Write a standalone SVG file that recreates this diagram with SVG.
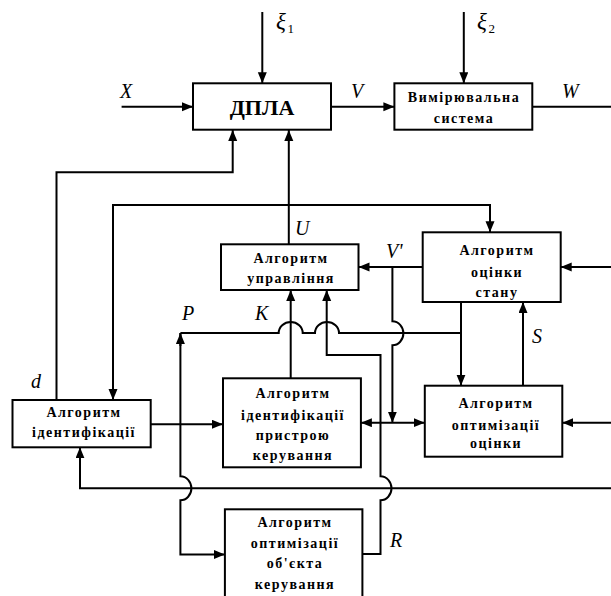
<svg xmlns="http://www.w3.org/2000/svg" width="611" height="596" viewBox="0 0 611 596">
<style>
.box{fill:#fff;stroke:#000;stroke-width:2}
.ln{fill:none;stroke:#000;stroke-width:2}
.t{font-family:"Liberation Serif","Times New Roman",serif;font-weight:bold;font-size:14px;letter-spacing:1.5px;text-anchor:middle;fill:#000}
.big{font-family:"Liberation Serif","Times New Roman",serif;font-weight:bold;font-size:22px;text-anchor:middle;fill:#000}
.lab{font-family:"Liberation Serif","Times New Roman",serif;font-style:italic;font-size:20px;fill:#000}
.xi{font-family:"Liberation Serif","Times New Roman",serif;font-style:italic;font-size:23px;fill:#000}
.sub{font-family:"Liberation Serif","Times New Roman",serif;font-size:13px;fill:#000}
</style>
<defs>
<marker id="ar" markerUnits="userSpaceOnUse" markerWidth="12" markerHeight="10" refX="11" refY="4.5" orient="auto-start-reverse">
<path d="M0,0 L11,4.5 L0,9 z" fill="#000"/>
</marker>
</defs>
<rect width="611" height="596" fill="#fff"/>

<g id="connectors" class="ln">
<path d="M262.3,12 V83.3" marker-end="url(#ar)"/>
<path d="M463.8,12 V83.3" marker-end="url(#ar)"/>
<path d="M121.6,106.7 H193" marker-end="url(#ar)"/>
<path d="M331,106.7 H394.4" marker-end="url(#ar)"/>
<path d="M532.3,106.7 H611"/>
<path d="M56.5,400 V172.3 H232.7 V130" marker-end="url(#ar)"/>
<path d="M288.8,244.3 V130" marker-end="url(#ar)"/>
<path d="M288.8,205 H113 V400" marker-end="url(#ar)"/>
<path d="M288.8,205 H490 V232.3" marker-end="url(#ar)"/>
<path d="M422.7,267 H358.5" marker-end="url(#ar)"/>
<path d="M611,267 H560.7" marker-end="url(#ar)"/>
<path d="M392.4,267 V321.3 A11,12 0 0 1 392.4,345.3 V422.7" marker-end="url(#ar)"/>
<path d="M461,302 V385.7" marker-end="url(#ar)"/>
<path d="M523,385.7 V302" marker-end="url(#ar)"/>
<path d="M461,333 H339 A12,11 0 0 0 315,333 H302.7 A12,11 0 0 0 278.7,333 H180.4"/>
<path d="M180.4,346 V333" marker-end="url(#ar)"/>
<path d="M180.4,333 V476.3 A11,12 0 0 1 180.4,500.3 V554.5 H224.9" marker-end="url(#ar)"/>
<path d="M362.4,554 H380.5 V500.3 A11,12 0 0 0 380.5,476.3 V355 H326.7 V290" marker-end="url(#ar)"/>
<path d="M290.7,378.3 V290" marker-end="url(#ar)"/>
<path d="M150.7,424.3 H223" marker-end="url(#ar)"/>
<path d="M424.8,422.7 H360.9" marker-start="url(#ar)" marker-end="url(#ar)"/>
<path d="M611,422.7 H562.3" marker-end="url(#ar)"/>
<path d="M611,488.3 H80 V447.3" marker-end="url(#ar)"/>
</g>

<g id="dpla"><rect class="box" x="193" y="83.3" width="138" height="46.4"/><text class="big" x="262" y="115">ДПЛА</text></g>
<g id="measure"><rect class="box" x="394.4" y="83.3" width="137.9" height="46.4"/><text class="t" x="464" y="101.5">Вимірювальна</text><text class="t" x="464" y="123">система</text></g>
<g id="control"><rect class="box" x="221" y="244.3" width="137.5" height="45.7"/><text class="t" x="291" y="263">Алгоритм</text><text class="t" x="291" y="283">управління</text></g>
<g id="state"><rect class="box" x="422.7" y="232.3" width="138" height="69.7"/><text class="t" x="497" y="255">Алгоритм</text><text class="t" x="497" y="276.5">оцінки</text><text class="t" x="497" y="296.5">стану</text></g>
<g id="ident"><rect class="box" x="12.5" y="400" width="138.2" height="47.3"/><text class="t" x="84" y="416.5">Алгоритм</text><text class="t" x="84" y="436.5">ідентифікації</text></g>
<g id="identdev"><rect class="box" x="223" y="378.3" width="137.9" height="89"/><text class="t" x="293" y="398">Алгоритм</text><text class="t" x="293" y="419.5">ідентифікації</text><text class="t" x="293" y="439.5">пристрою</text><text class="t" x="293" y="459.5">керування</text></g>
<g id="optest"><rect class="box" x="424.8" y="385.7" width="137.5" height="71"/><text class="t" x="496" y="408">Алгоритм</text><text class="t" x="496" y="429.5">оптимізації</text><text class="t" x="496" y="448">оцінки</text></g>
<g id="optobj"><rect class="box" x="224.9" y="509.3" width="137.5" height="95"/><text class="t" x="295" y="526.5">Алгоритм</text><text class="t" x="295" y="548">оптимізації</text><text class="t" x="295" y="568">об'єкта</text><text class="t" x="295" y="588.5">керування</text></g>

<g id="labels">
<text class="xi" x="276" y="28.5">ξ</text><text class="sub" x="287.5" y="33">1</text>
<text class="xi" x="477" y="28.5">ξ</text><text class="sub" x="488.5" y="33">2</text>
<text class="lab" x="120" y="98">X</text>
<text class="lab" x="351" y="98">V</text>
<text class="lab" x="562" y="97.5">W</text>
<text class="lab" x="295" y="235">U</text>
<text class="lab" x="386" y="258">V'</text>
<text class="lab" x="182" y="320">P</text>
<text class="lab" x="255" y="320">K</text>
<text class="lab" x="532" y="342.5">S</text>
<text class="lab" x="390" y="547">R</text>
<text class="lab" x="31" y="388">d</text>
</g>
</svg>
